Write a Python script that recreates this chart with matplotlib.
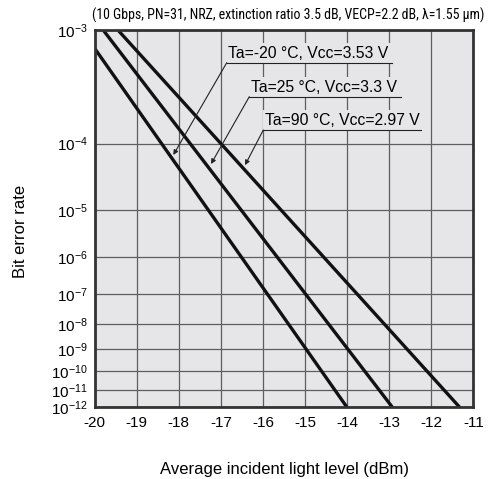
import matplotlib.pyplot as plt
import numpy as np
from matplotlib import font_manager
from matplotlib.patches import Rectangle

plt.rcParams['font.family'] = ['Liberation Sans', 'DejaVu Sans']
plt.rcParams['mathtext.default'] = 'regular'

# optical input power (dBm) read at given bit error rates
power_m20 = [-20.0, -18.41, -14.0]
ber_m20 = [7.6e-4, 1e-4, 1e-12]
power_25 = [-19.8, -17.73, -12.92]
ber_25 = [1e-3, 1e-4, 1e-12]
power_90 = [-19.45, -17.0, -11.32]
ber_90 = [1e-3, 1e-4, 1e-12]

labels = ['Ta=-20 °C, Vcc=3.53 V', 'Ta=25 °C, Vcc=3.3 V', 'Ta=90 °C, Vcc=2.97 V']
ber_ticks = [10.0 ** -k for k in range(3, 13)]
ber_ticklabels = ['$10^{-%d}$' % k for k in range(3, 13)]
x_ticks = list(range(-20, -10))
title = '(10 Gbps, PN=31, NRZ, extinction ratio 3.5 dB, VECP=2.2 dB, λ=1.55 μm)'

bg = '#e6e6e8'


# BER paper scale: straight lines for log10(-log10(BER) - 2)
def fwd(y):
    with np.errstate(divide='ignore', invalid='ignore'):
        return -np.log10(-np.log10(y) - 2)


def inv(v):
    return 10.0 ** (-(10.0 ** (-v) + 2))


fig = plt.figure(figsize=(4.9, 4.79), dpi=100)
ax = fig.add_axes([0.1933, 0.1493, 0.7727, 0.7881])
ax.set_facecolor(bg)
ax.set_yscale('function', functions=(fwd, inv))
ax.set_xlim(-20, -11)
ax.set_ylim(1e-12, 1e-3)

ax.set_xticks(x_ticks)
ax.set_xticklabels([str(t) for t in x_ticks])
ax.set_yticks(ber_ticks)
ax.set_yticklabels(ber_ticklabels)
ax.minorticks_off()
ax.tick_params(axis='both', length=0, labelsize=11)
ax.tick_params(axis='x', pad=6)
ax.tick_params(axis='y', pad=5)
ax.grid(True, color='#5e5e5e', lw=0.9, zorder=1)
ax.set_axisbelow(True)
for s in ax.spines.values():
    s.set_linewidth(2)
    s.set_color('#333333')
    s.set_zorder(6)

for p, b in [(power_m20, ber_m20), (power_25, ber_25), (power_90, ber_90)]:
    ax.plot(p, b, color='#111111', lw=2.4, solid_capstyle='butt', zorder=3)

# labels with underline leaders (axes fraction coords)
boxes = [(0.3487, 0.7845, 0.9134, 0.9650), (0.4083, 0.8077, 0.8233, 0.8760), (0.4453, 0.8620, 0.7351, 0.7880)]
tips = [(0.2076, 0.669), (0.3072, 0.645), (0.397, 0.642)]
for text, (x0, x1, y0, y1), tip in zip(labels, boxes, tips):
    ax.add_patch(Rectangle((x0, y0), x1 - x0, y1 - y0, transform=ax.transAxes,
                           facecolor=bg, edgecolor='none', zorder=4))
    ax.text(x0 + 0.004, y0 + 0.005, text, transform=ax.transAxes, fontsize=11.3,
            ha='left', va='bottom', zorder=5)
    ax.plot([x0, x1], [y0, y0], transform=ax.transAxes, color='#222222', lw=0.8, zorder=5)
    ax.annotate('', xy=tip, xycoords='axes fraction', xytext=(x0, y0), textcoords='axes fraction',
                arrowprops=dict(arrowstyle='-|>', color='#222222', lw=0.8, mutation_scale=7,
                                shrinkA=0, shrinkB=0), zorder=5)

# narrow face for the condition line if one is installed
names = {f.name for f in font_manager.fontManager.ttflist}
narrow = next((n for n in ['Liberation Sans Narrow', 'Roboto Condensed', 'DejaVu Sans Condensed']
               if n in names), 'Liberation Sans')
t = fig.text(0.589, 0.969, title, ha='center', va='center', fontsize=10.5, family=[narrow, 'DejaVu Sans'])
fig.canvas.draw()
w = t.get_window_extent().width
t.set_fontsize(min(10.5, 10.5 * 396 / w))

fig.text(0.041, 0.516, 'Bit error rate', rotation=90, ha='center', va='center', fontsize=12)
fig.text(0.58, 0.019, 'Average incident light level (dBm)', ha='center', va='center', fontsize=12)

fig.savefig('out.png', dpi=100, facecolor='white')
